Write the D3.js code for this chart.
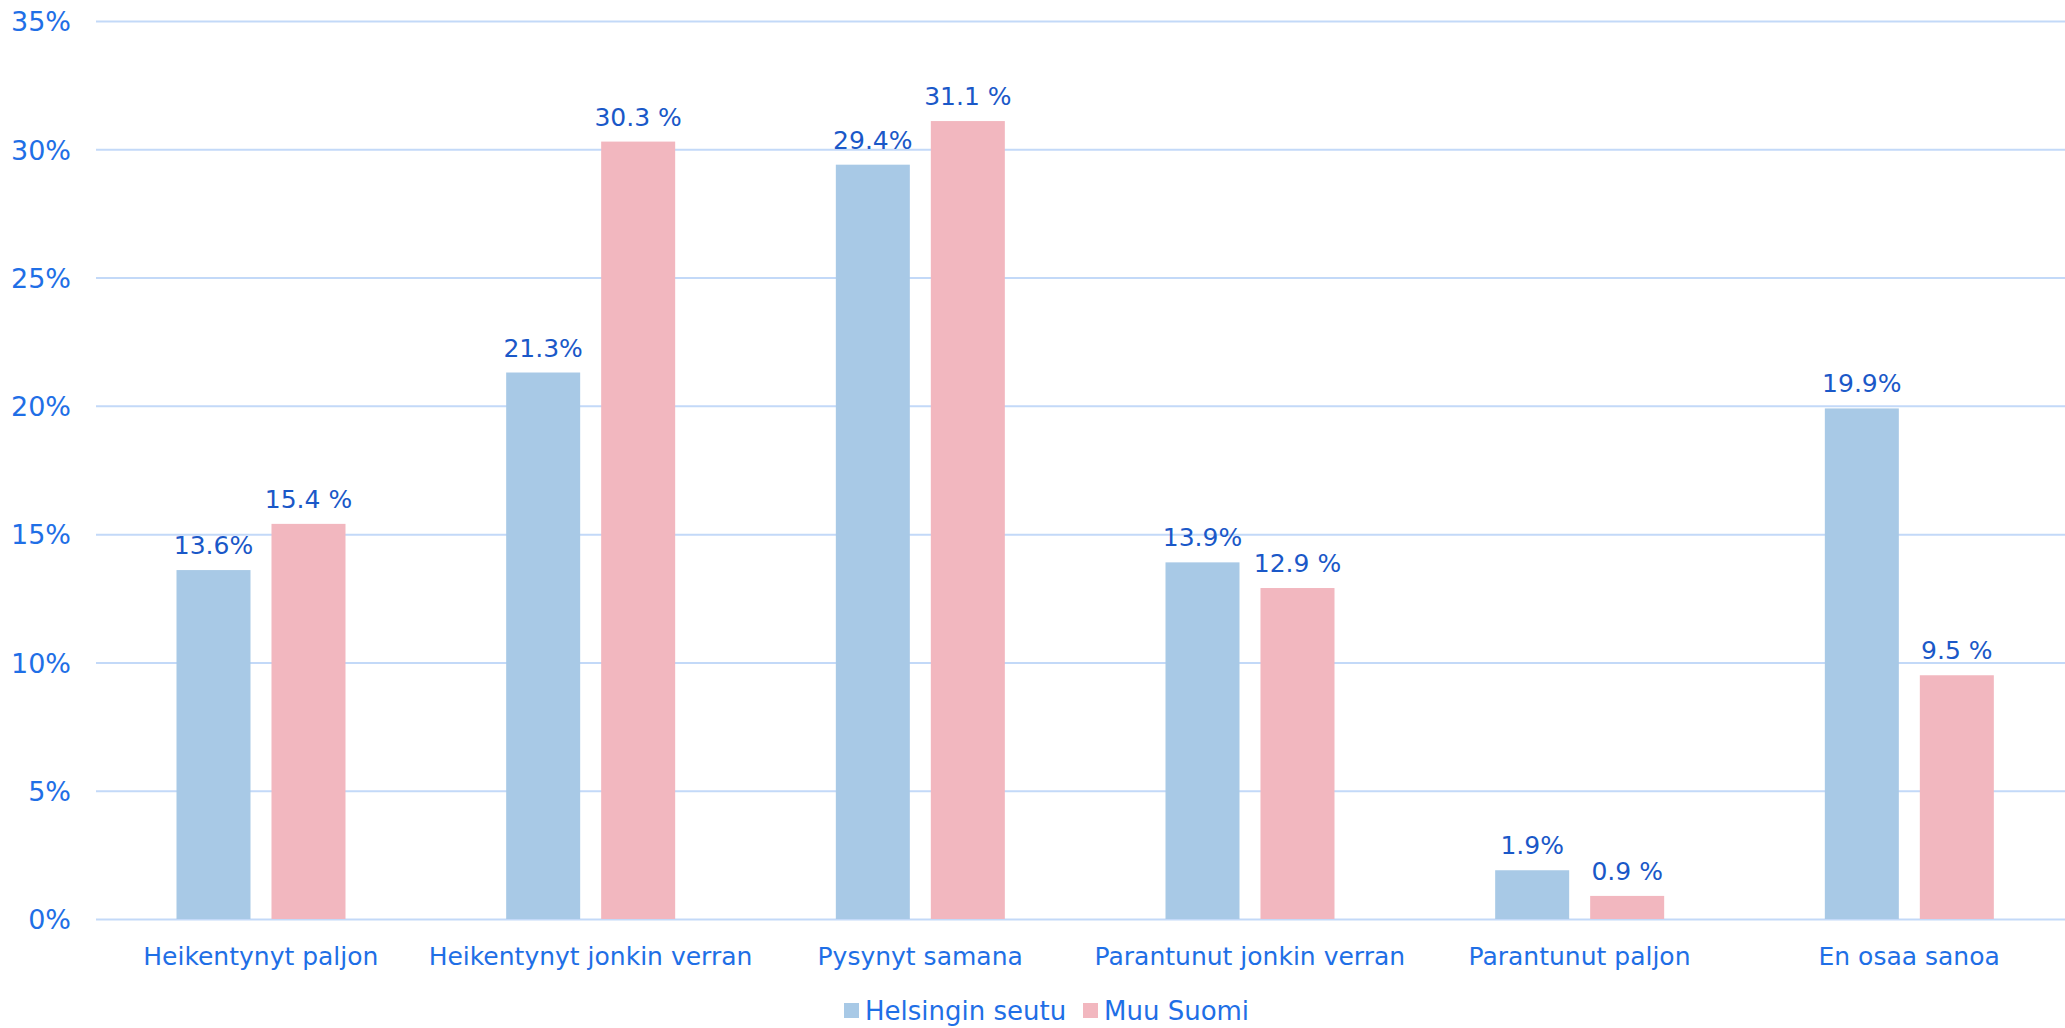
<!DOCTYPE html>
<html><head><meta charset="utf-8">
<script src="https://cdn.jsdelivr.net/npm/d3@7"></script>
<style>
html,body{margin:0;padding:0;background:#fff;}
svg text{font-family:"DejaVu Sans",sans-serif;}
</style></head>
<body>
<svg id="chart" width="2065" height="1028"></svg>
<script>
const categories = ["Heikentynyt paljon","Heikentynyt jonkin verran","Pysynyt samana","Parantunut jonkin verran","Parantunut paljon","En osaa sanoa"];
const seriesNames = ["Helsingin seutu","Muu Suomi"];
const helsinkiValues = [13.6, 21.3, 29.4, 13.9, 1.9, 19.9];
const muuSuomiValues = [15.4, 30.3, 31.1, 12.9, 0.9, 9.5];
const labelSeparators = ["", " "];
const yTicks = [0,5,10,15,20,25,30,35];
const seriesColors = ["#a8c9e6","#f2b7bf"];

const svg = d3.select("#chart");
const plot = {left:96, right:2074, top:21, bottom:919};

const x0 = d3.scaleBand().domain(categories).range([plot.left, plot.right]).paddingInner(0).paddingOuter(0);
const x1 = d3.scaleBand().domain(seriesNames).range([80.5, 249.5]).paddingInner(0.221).paddingOuter(0);
const y = d3.scaleLinear().domain([0,35]).range([plot.bottom, plot.top]);

// grid + y axis
const yAxis = d3.axisLeft(y).tickValues(yTicks).tickFormat(d => d + "%").tickSize(-(2065 - plot.left)).tickPadding(25);
const gy = svg.append("g").attr("transform", `translate(${plot.left},0)`).call(yAxis);
gy.select(".domain").remove();
gy.selectAll(".tick line").attr("stroke", "#c3d9f8").attr("stroke-width", 2);
gy.selectAll(".tick text").attr("fill", "#1f6fe6").attr("font-size", 27).attr("dy", "0.36em");

const series = [helsinkiValues, muuSuomiValues];
const rows = [];
categories.forEach((c, i) => series.forEach((vals, s) => rows.push({cat:c, s, name:seriesNames[s], v:vals[i]})));

svg.append("g").selectAll("rect").data(rows).join("rect")
  .attr("x", d => x0(d.cat) + x1(d.name))
  .attr("width", x1.bandwidth())
  .attr("y", d => y(d.v))
  .attr("height", d => y(0) - y(d.v))
  .attr("fill", d => seriesColors[d.s]);

svg.append("g").selectAll("text").data(rows).join("text")
  .attr("x", d => x0(d.cat) + x1(d.name) + x1.bandwidth()/2)
  .attr("y", d => y(d.v) - 16)
  .attr("text-anchor", "middle")
  .attr("fill", "#1a58c8")
  .attr("font-size", 25)
  .text(d => d.v.toFixed(1) + labelSeparators[d.s] + "%");

// x axis labels
const xAxis = d3.axisBottom(x0).tickSize(0).tickPadding(28);
const gx = svg.append("g").attr("transform", `translate(0,${plot.bottom})`).call(xAxis);
gx.select(".domain").remove();
gx.selectAll(".tick text").attr("fill", "#1f6fe6").attr("font-size", 25);

// legend
const legendItems = [{name:seriesNames[0], x:844, c:seriesColors[0]},{name:seriesNames[1], x:1083, c:seriesColors[1]}];
const lg = svg.append("g");
legendItems.forEach(it => {
  lg.append("rect").attr("x", it.x).attr("y", 1003).attr("width", 15).attr("height", 15).attr("fill", it.c);
  lg.append("text").attr("x", it.x + 21).attr("y", 1011).attr("dy", "0.36em").attr("fill", "#1f6fe6").attr("font-size", 26).text(it.name);
});
</script>
</body></html>
